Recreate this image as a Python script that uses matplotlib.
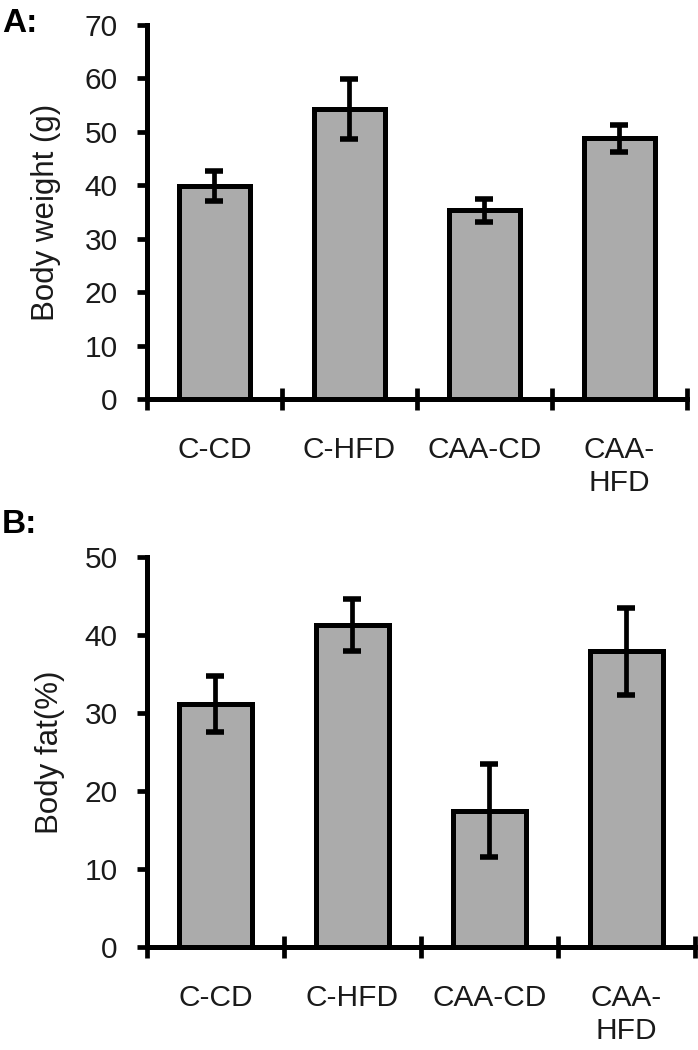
import numpy as np
import matplotlib
matplotlib.use("Agg")
import matplotlib.pyplot as plt

plt.rcParams['font.family'] = ['Liberation Sans', 'DejaVu Sans']

groups = ["C-CD", "C-HFD", "CAA-CD", "CAA-\nHFD"]

weight_mean = [39.8, 54.2, 35.3, 48.8]
weight_err = [2.8, 5.6, 2.2, 2.5]

fat_mean = [31.2, 41.3, 17.5, 37.9]
fat_err = [3.6, 3.3, 5.9, 5.6]

fig = plt.figure(figsize=(6.98, 10.5), dpi=100)

ax1 = fig.add_axes([0.2106, 0.62, 0.7736, 0.3562])
ax2 = fig.add_axes([0.2106, 0.0981, 0.785, 0.3714])

txt = '#1a1a1a'


def panel(ax, means, errs, ymax, ylabel, labx):
    x = np.arange(len(groups))
    ax.bar(x, means, width=0.53, color='#ababab', edgecolor='black', linewidth=3.6, zorder=2)
    ax.errorbar(x, means, yerr=errs, fmt='none', ecolor='black', elinewidth=3.4,
                capsize=6.5, capthick=4, zorder=3)
    ax.set_xlim(-0.5, len(groups) - 0.5)
    ax.set_ylim(0, ymax)
    ax.set_yticks(np.arange(0, ymax + 1, 10))
    ax.spines['top'].set_visible(False)
    ax.spines['right'].set_visible(False)
    ax.spines['left'].set_linewidth(3.6)
    ax.spines['bottom'].set_linewidth(3.6)
    ax.spines['left'].set_zorder(4)
    ax.spines['bottom'].set_zorder(4)
    # boundary ticks cross the axis, labels sit at bar centres
    ax.set_xticks(np.arange(-0.5, len(groups), 1.0))
    ax.set_xticklabels([])
    ax.set_xticks(x, minor=True)
    ax.set_xticklabels(groups, minor=True, fontsize=21.5, color=txt)
    ax.tick_params(axis='x', which='major', direction='inout', length=16, width=3.4)
    ax.tick_params(axis='x', which='minor', length=0, pad=27)
    ax.tick_params(axis='y', direction='out', length=7, width=3.4, pad=14,
                   labelsize=21.5, labelcolor=txt)
    ax.set_ylabel(ylabel, fontsize=22.5, color=txt)
    ax.yaxis.set_label_coords(labx, 0.5)


panel(ax1, weight_mean, weight_err, 70, "Body weight (g)", -0.16)
panel(ax2, fat_mean, fat_err, 50, "Body fat(%)", -0.15)

fig.text(0.003, 0.9695, "A:", fontsize=24, fontweight='bold')
fig.text(0.003, 0.4924, "B:", fontsize=24, fontweight='bold')

fig.savefig("out.png", dpi=100)
